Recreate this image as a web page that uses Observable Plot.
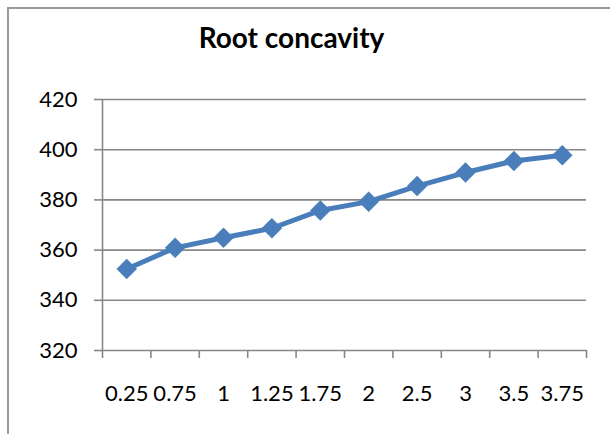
<!DOCTYPE html>
<html>
<head>
<meta charset="utf-8">
<script src="https://cdn.jsdelivr.net/npm/d3@7"></script>
<script src="https://cdn.jsdelivr.net/npm/@observablehq/plot@0.6"></script>
<style>
  html, body { margin: 0; padding: 0; background: #fff; }
  #wrap { position: relative; width: 610px; height: 434px; overflow: hidden; }
  #frame { position: absolute; left: 7px; top: 7px; width: 700px; height: 600px;
           border-left: 2px solid #9a9a9a; border-top: 2px solid #9a9a9a; }
  #chart { position: absolute; left: 0; top: 0; }
</style>
</head>
<body>
<div id="wrap"><div id="frame"></div><div id="chart"></div></div>
<script>
const title = "Root concavity";
const categories = ["0.25", "0.75", "1", "1.25", "1.75", "2", "2.5", "3", "3.5", "3.75"];
const values = [352.5, 360.9, 364.9, 368.7, 375.8, 379.3, 385.5, 390.9, 395.5, 397.8];
const yTicks = [320, 340, 360, 380, 400, 420];

const data = categories.map((c, i) => ({cat: c, pos: i + 0.5, value: values[i]}));
const boundaries = d3.range(categories.length + 1);
const centers = data.map(d => d.pos);

const font = "Lato, 'Open Sans', sans-serif";
const gridColor = "#878787";
const blue = "#4a7ebb";

const chart = Plot.plot({
  width: 610,
  height: 434,
  marginLeft: 102,
  marginRight: 24,
  marginTop: 99,
  marginBottom: 84,
  style: {fontFamily: font, fontSize: "22px", color: "#000", background: "transparent"},
  x: {type: "linear", domain: [0, categories.length]},
  y: {domain: [320, 420]},
  marks: [
    Plot.ruleY(yTicks, {stroke: gridColor, strokeWidth: 1.6}),
    Plot.ruleX([0], {stroke: gridColor, strokeWidth: 1.6}),
    Plot.axisY({ticks: yTicks, tickSize: 8, tickPadding: 17, stroke: gridColor, strokeWidth: 1.6, strokeOpacity: 1, label: null, fill: "#000"}),
    Plot.axisX({ticks: boundaries, tickSize: 8, tickFormat: () => "", stroke: gridColor, strokeWidth: 1.6, strokeOpacity: 1, label: null}),
    Plot.axisX({ticks: centers, tickSize: 0, tickPadding: 35, tickFormat: (t) => categories[Math.round(t - 0.5)], label: null, fill: "#000"}),
    Plot.line(data, {x: "pos", y: "value", stroke: blue, strokeWidth: 5, strokeLinejoin: "round"}),
    Plot.dot(data, {x: "pos", y: "value", symbol: "diamond2", r: 9, fill: blue, stroke: blue, strokeWidth: 0.5}),
    Plot.text([title], {frameAnchor: "top-left", dx: 189, dy: -71, text: d => d, textAnchor: "middle", fontSize: 28, fontWeight: "bold", fill: "#000"})
  ]
});
document.getElementById("chart").appendChild(chart);
</script>
</body>
</html>
